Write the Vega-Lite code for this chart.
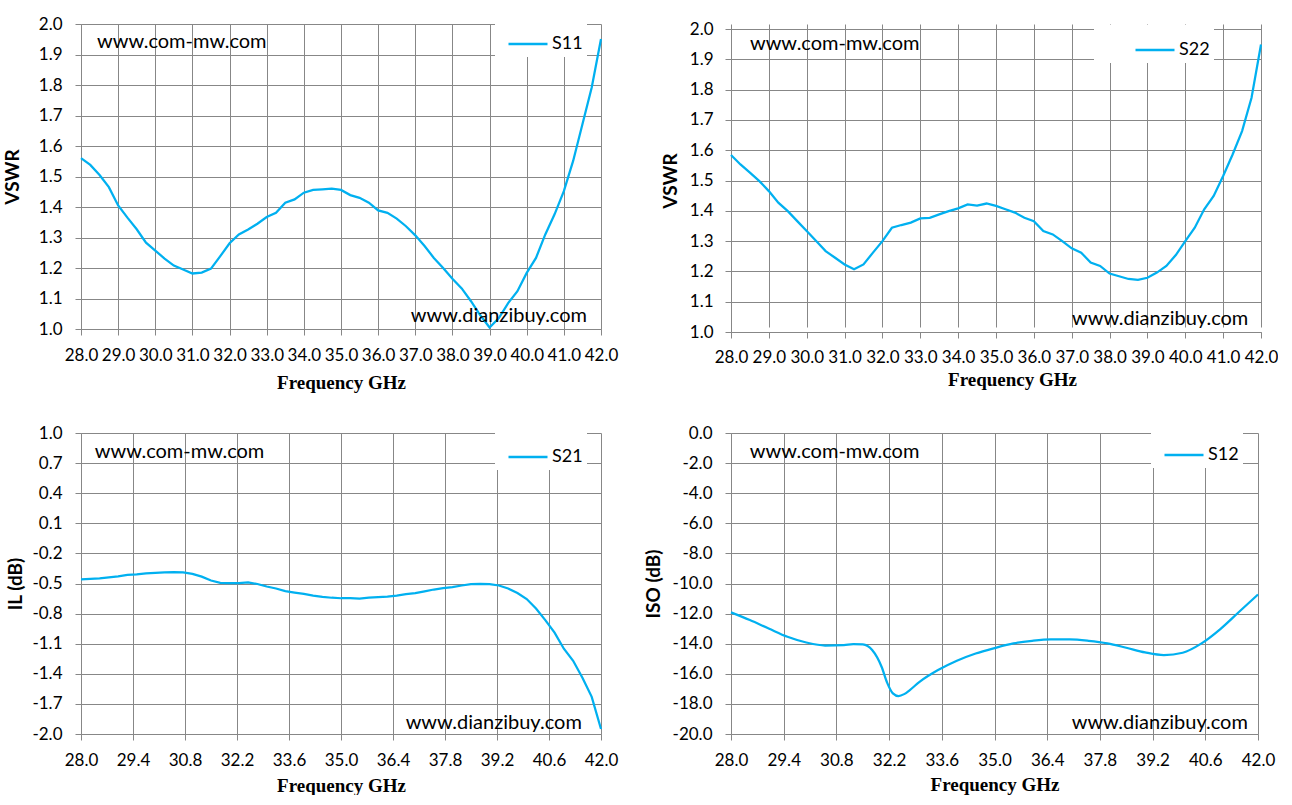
{
  "$schema": "https://vega.github.io/schema/vega-lite/v6.json",
  "background": "white",
  "padding": {"left": 3, "top": 15, "right": 0, "bottom": 0},
  "datasets": {
    "s11": [
      {"f": 28.0, "v": 1.560}, {"f": 28.25, "v": 1.538}, {"f": 28.5, "v": 1.505}, {"f": 28.75, "v": 1.465},
      {"f": 29.0, "v": 1.405}, {"f": 29.25, "v": 1.365}, {"f": 29.5, "v": 1.327}, {"f": 29.75, "v": 1.283},
      {"f": 30.0, "v": 1.257}, {"f": 30.25, "v": 1.231}, {"f": 30.5, "v": 1.208}, {"f": 30.75, "v": 1.195},
      {"f": 31.0, "v": 1.182}, {"f": 31.25, "v": 1.185}, {"f": 31.5, "v": 1.198}, {"f": 31.75, "v": 1.239},
      {"f": 32.0, "v": 1.281}, {"f": 32.25, "v": 1.310}, {"f": 32.5, "v": 1.326}, {"f": 32.75, "v": 1.345},
      {"f": 33.0, "v": 1.367}, {"f": 33.25, "v": 1.381}, {"f": 33.5, "v": 1.414}, {"f": 33.75, "v": 1.425},
      {"f": 34.0, "v": 1.447}, {"f": 34.25, "v": 1.456}, {"f": 34.5, "v": 1.458}, {"f": 34.75, "v": 1.460},
      {"f": 35.0, "v": 1.456}, {"f": 35.25, "v": 1.439}, {"f": 35.5, "v": 1.430}, {"f": 35.75, "v": 1.414},
      {"f": 36.0, "v": 1.389}, {"f": 36.25, "v": 1.381}, {"f": 36.5, "v": 1.362}, {"f": 36.75, "v": 1.337},
      {"f": 37.0, "v": 1.307}, {"f": 37.25, "v": 1.272}, {"f": 37.5, "v": 1.233}, {"f": 37.75, "v": 1.200},
      {"f": 38.0, "v": 1.165}, {"f": 38.25, "v": 1.133}, {"f": 38.5, "v": 1.091}, {"f": 38.75, "v": 1.045},
      {"f": 39.0, "v": 1.005}, {"f": 39.25, "v": 1.036}, {"f": 39.5, "v": 1.085}, {"f": 39.75, "v": 1.124},
      {"f": 40.0, "v": 1.184}, {"f": 40.25, "v": 1.233}, {"f": 40.5, "v": 1.310}, {"f": 40.75, "v": 1.376},
      {"f": 41.0, "v": 1.452}, {"f": 41.25, "v": 1.551}, {"f": 41.5, "v": 1.671}, {"f": 41.75, "v": 1.792},
      {"f": 42.0, "v": 1.951}
    ],
    "s22": [
      {"f": 28.0, "v": 1.584}, {"f": 28.25, "v": 1.553}, {"f": 28.5, "v": 1.526}, {"f": 28.75, "v": 1.498},
      {"f": 29.0, "v": 1.465}, {"f": 29.25, "v": 1.427}, {"f": 29.5, "v": 1.399}, {"f": 29.75, "v": 1.366},
      {"f": 30.0, "v": 1.333}, {"f": 30.25, "v": 1.300}, {"f": 30.5, "v": 1.267}, {"f": 30.75, "v": 1.245},
      {"f": 31.0, "v": 1.223}, {"f": 31.25, "v": 1.207}, {"f": 31.5, "v": 1.223}, {"f": 31.75, "v": 1.262},
      {"f": 32.0, "v": 1.300}, {"f": 32.25, "v": 1.344}, {"f": 32.5, "v": 1.353}, {"f": 32.75, "v": 1.361},
      {"f": 33.0, "v": 1.375}, {"f": 33.25, "v": 1.377}, {"f": 33.5, "v": 1.388}, {"f": 33.75, "v": 1.399},
      {"f": 34.0, "v": 1.408}, {"f": 34.25, "v": 1.421}, {"f": 34.5, "v": 1.417}, {"f": 34.75, "v": 1.424},
      {"f": 35.0, "v": 1.416}, {"f": 35.25, "v": 1.405}, {"f": 35.5, "v": 1.394}, {"f": 35.75, "v": 1.377},
      {"f": 36.0, "v": 1.366}, {"f": 36.25, "v": 1.333}, {"f": 36.5, "v": 1.322}, {"f": 36.75, "v": 1.300},
      {"f": 37.0, "v": 1.276}, {"f": 37.25, "v": 1.262}, {"f": 37.5, "v": 1.229}, {"f": 37.75, "v": 1.218},
      {"f": 38.0, "v": 1.193}, {"f": 38.25, "v": 1.184}, {"f": 38.5, "v": 1.175}, {"f": 38.75, "v": 1.172},
      {"f": 39.0, "v": 1.179}, {"f": 39.25, "v": 1.196}, {"f": 39.5, "v": 1.218}, {"f": 39.75, "v": 1.254},
      {"f": 40.0, "v": 1.300}, {"f": 40.25, "v": 1.344}, {"f": 40.5, "v": 1.405}, {"f": 40.75, "v": 1.449},
      {"f": 41.0, "v": 1.515}, {"f": 41.25, "v": 1.586}, {"f": 41.5, "v": 1.663}, {"f": 41.75, "v": 1.773},
      {"f": 42.0, "v": 1.949}
    ],
    "s21": [
      {"f": 28.0, "v": -0.460}, {"f": 28.25, "v": -0.455}, {"f": 28.5, "v": -0.450}, {"f": 28.75, "v": -0.440},
      {"f": 29.0, "v": -0.430}, {"f": 29.25, "v": -0.415}, {"f": 29.5, "v": -0.410}, {"f": 29.75, "v": -0.400},
      {"f": 30.0, "v": -0.395}, {"f": 30.25, "v": -0.390}, {"f": 30.5, "v": -0.387}, {"f": 30.75, "v": -0.390},
      {"f": 31.0, "v": -0.405}, {"f": 31.25, "v": -0.432}, {"f": 31.5, "v": -0.470}, {"f": 31.75, "v": -0.494},
      {"f": 32.0, "v": -0.497}, {"f": 32.25, "v": -0.496}, {"f": 32.5, "v": -0.490}, {"f": 32.75, "v": -0.505},
      {"f": 33.0, "v": -0.530}, {"f": 33.25, "v": -0.550}, {"f": 33.5, "v": -0.576}, {"f": 33.75, "v": -0.590},
      {"f": 34.0, "v": -0.603}, {"f": 34.25, "v": -0.620}, {"f": 34.5, "v": -0.633}, {"f": 34.75, "v": -0.642},
      {"f": 35.0, "v": -0.647}, {"f": 35.25, "v": -0.645}, {"f": 35.5, "v": -0.650}, {"f": 35.75, "v": -0.640},
      {"f": 36.0, "v": -0.635}, {"f": 36.25, "v": -0.630}, {"f": 36.5, "v": -0.620}, {"f": 36.75, "v": -0.607},
      {"f": 37.0, "v": -0.595}, {"f": 37.25, "v": -0.578}, {"f": 37.5, "v": -0.560}, {"f": 37.75, "v": -0.545},
      {"f": 38.0, "v": -0.535}, {"f": 38.25, "v": -0.520}, {"f": 38.5, "v": -0.507}, {"f": 38.75, "v": -0.503},
      {"f": 39.0, "v": -0.507}, {"f": 39.25, "v": -0.520}, {"f": 39.5, "v": -0.550}, {"f": 39.75, "v": -0.595},
      {"f": 40.0, "v": -0.655}, {"f": 40.25, "v": -0.750}, {"f": 40.5, "v": -0.865}, {"f": 40.75, "v": -0.990},
      {"f": 41.0, "v": -1.150}, {"f": 41.25, "v": -1.270}, {"f": 41.5, "v": -1.440}, {"f": 41.75, "v": -1.630},
      {"f": 42.0, "v": -1.950}
    ],
    "s12": [
      {"f": 28.0, "v": -11.92}, {"f": 28.5, "v": -12.43}, {"f": 29.0, "v": -12.99}, {"f": 29.5, "v": -13.54},
      {"f": 30.0, "v": -13.92}, {"f": 30.5, "v": -14.12}, {"f": 31.0, "v": -14.09}, {"f": 31.25, "v": -14.03},
      {"f": 31.5, "v": -14.05}, {"f": 31.75, "v": -14.42}, {"f": 32.0, "v": -15.53}, {"f": 32.15, "v": -16.6},
      {"f": 32.3, "v": -17.3}, {"f": 32.45, "v": -17.48}, {"f": 32.6, "v": -17.35}, {"f": 32.75, "v": -17.08},
      {"f": 33.0, "v": -16.55}, {"f": 33.5, "v": -15.75}, {"f": 34.0, "v": -15.13}, {"f": 34.5, "v": -14.65},
      {"f": 35.0, "v": -14.29}, {"f": 35.5, "v": -13.98}, {"f": 36.0, "v": -13.81}, {"f": 36.5, "v": -13.72},
      {"f": 37.0, "v": -13.72}, {"f": 37.5, "v": -13.81}, {"f": 38.0, "v": -13.98}, {"f": 38.5, "v": -14.27},
      {"f": 39.0, "v": -14.58}, {"f": 39.5, "v": -14.76}, {"f": 40.0, "v": -14.6}, {"f": 40.5, "v": -13.98},
      {"f": 41.0, "v": -13.03}, {"f": 41.5, "v": -11.88}, {"f": 42.0, "v": -10.73}
    ]
  },
  "bounds": "flush",
  "columns": 2,
  "spacing": {"row": 101, "column": 130},
  "resolve": {"scale": {"color": "independent"}, "legend": {"color": "independent"}},
  "concat": [
    {
      "width": 520,
      "height": 305,
      "layer": [
        {
          "data": {"name": "s11"},
          "mark": {"type": "line", "strokeWidth": 2.25},
          "encoding": {
            "x": {"field": "f", "type": "quantitative", "scale": {"domain": [28, 42], "nice": false, "zero": false},
              "axis": {"title": "Frequency GHz", "values": [28, 29, 30, 31, 32, 33, 34, 35, 36, 37, 38, 39, 40, 41, 42], "format": ".1f", "titlePadding": 10}},
            "y": {"field": "v", "type": "quantitative", "scale": {"domain": [1, 2], "nice": false, "zero": false},
              "axis": {"title": "VSWR", "values": [1, 1.1, 1.2, 1.3, 1.4, 1.5, 1.6, 1.7, 1.8, 1.9, 2], "format": ".1f", "titlePadding": 16}},
            "color": {"datum": "S11", "type": "nominal", "scale": {"range": ["#00B0F0"]},
              "legend": {"orient": "none", "legendX": 414, "legendY": -5, "title": null}}
          }
        },
        {
          "data": {"values": [{"f": 28.43, "v": 1.941, "label": "www.com-mw.com"}, {"f": 36.88, "v": 1.043, "label": "www.dianzibuy.com"}]},
          "mark": {"type": "text", "align": "left", "baseline": "middle", "font": "Lato", "fontSize": 20, "color": "#000"},
          "encoding": {"x": {"field": "f", "type": "quantitative"}, "y": {"field": "v", "type": "quantitative"}, "text": {"field": "label"}}
        }
      ]
    },
    {
      "width": 530,
      "height": 308,
      "layer": [
        {
          "data": {"name": "s22"},
          "mark": {"type": "line", "strokeWidth": 2.25},
          "encoding": {
            "x": {"field": "f", "type": "quantitative", "scale": {"domain": [28, 42], "nice": false, "zero": false},
              "axis": {"title": "Frequency GHz", "values": [28, 29, 30, 31, 32, 33, 34, 35, 36, 37, 38, 39, 40, 41, 42], "format": ".1f", "labelPadding": 11, "titlePadding": 5, "titleX": 281}},
            "y": {"field": "v", "type": "quantitative", "scale": {"domain": [1, 2], "nice": false, "zero": false, "range": [308, 5]},
              "axis": {"title": "VSWR", "values": [1, 1.1, 1.2, 1.3, 1.4, 1.5, 1.6, 1.7, 1.8, 1.9, 2], "format": ".1f", "labelPadding": 12, "titlePadding": 9}},
            "color": {"datum": "S22", "type": "nominal", "scale": {"range": ["#00B0F0"]},
              "legend": {"orient": "none", "legendX": 363, "legendY": 1, "title": null, "symbolOffset": 36}}
          }
        },
        {
          "data": {"values": [{"f": 28.5, "v": 1.95, "label": "www.com-mw.com"}, {"f": 37.01, "v": 1.042, "label": "www.dianzibuy.com"}]},
          "mark": {"type": "text", "align": "left", "baseline": "middle", "font": "Lato", "fontSize": 20, "color": "#000"},
          "encoding": {"x": {"field": "f", "type": "quantitative"}, "y": {"field": "v", "type": "quantitative"}, "text": {"field": "label"}}
        }
      ]
    },
    {
      "width": 520,
      "height": 301,
      "layer": [
        {
          "data": {"name": "s21"},
          "mark": {"type": "line", "strokeWidth": 2.25},
          "encoding": {
            "x": {"field": "f", "type": "quantitative", "scale": {"domain": [28, 42], "nice": false, "zero": false},
              "axis": {"title": "Frequency GHz", "values": [28, 29.4, 30.8, 32.2, 33.6, 35, 36.4, 37.8, 39.2, 40.6, 42], "format": ".1f", "titlePadding": 8}},
            "y": {"field": "v", "type": "quantitative", "scale": {"domain": [-2, 1], "nice": false, "zero": false},
              "axis": {"title": "IL (dB)", "values": [1, 0.7, 0.4, 0.1, -0.2, -0.5, -0.8, -1.1, -1.4, -1.7, -2],
                "labelExpr": "replace(format(datum.value, '.1f'), '\u2212', '-')", "titlePadding": 6}},
            "color": {"datum": "S21", "type": "nominal", "scale": {"range": ["#00B0F0"]},
              "legend": {"orient": "none", "legendX": 414, "legendY": -1, "title": null}}
          }
        },
        {
          "data": {"values": [{"f": 28.37, "v": 0.814, "label": "www.com-mw.com"}, {"f": 36.74, "v": -1.893, "label": "www.dianzibuy.com"}]},
          "mark": {"type": "text", "align": "left", "baseline": "middle", "font": "Lato", "fontSize": 20, "color": "#000"},
          "encoding": {"x": {"field": "f", "type": "quantitative"}, "y": {"field": "v", "type": "quantitative"}, "text": {"field": "label"}}
        }
      ]
    },
    {
      "width": 527,
      "height": 301,
      "layer": [
        {
          "data": {"name": "s12"},
          "mark": {"type": "line", "strokeWidth": 2.25, "interpolate": "monotone"},
          "encoding": {
            "x": {"field": "f", "type": "quantitative", "scale": {"domain": [28, 42], "nice": false, "zero": false},
              "axis": {"title": "Frequency GHz", "values": [28, 29.4, 30.8, 32.2, 33.6, 35, 36.4, 37.8, 39.2, 40.6, 42], "format": ".1f", "titlePadding": 7}},
            "y": {"field": "v", "type": "quantitative", "scale": {"domain": [-20, 0], "nice": false, "zero": false},
              "axis": {"title": "ISO (dB)", "values": [0, -2, -4, -6, -8, -10, -12, -14, -16, -18, -20],
                "labelExpr": "replace(format(datum.value, '.1f'), '\u2212', '-')", "titlePadding": 9}},
            "color": {"datum": "S12", "type": "nominal", "scale": {"range": ["#00B0F0"]},
              "legend": {"orient": "none", "legendX": 420, "legendY": -3, "title": null}}
          }
        },
        {
          "data": {"values": [{"f": 28.5, "v": -1.28, "label": "www.com-mw.com"}, {"f": 37.05, "v": -19.29, "label": "www.dianzibuy.com"}]},
          "mark": {"type": "text", "align": "left", "baseline": "middle", "font": "Lato", "fontSize": 20, "color": "#000"},
          "encoding": {"x": {"field": "f", "type": "quantitative"}, "y": {"field": "v", "type": "quantitative"}, "text": {"field": "label"}}
        }
      ]
    }
  ],
  "config": {
    "view": {"stroke": null},
    "axis": {
      "grid": true, "gridColor": "#878787", "gridWidth": 1, "gridOpacity": 1,
      "domainColor": "#878787", "domainWidth": 1, "tickColor": "#878787", "tickSize": 6, "tickWidth": 1,
      "tickCount": 100,
      "labelFont": "Lato", "labelFontSize": 17, "labelColor": "#000", "labelFlush": false, "labelOverlap": false, "labelBound": false,
      "titleColor": "#000"
    },
    "axisX": {"titleFont": "Liberation Serif", "titleFontSize": 19, "titleFontWeight": "bold", "labelPadding": 12},
    "axisY": {"titleFont": "Lato", "titleFontSize": 19, "titleFontWeight": "bold", "labelPadding": 13},
    "legend": {
      "symbolType": "stroke", "symbolSize": 1521, "symbolStrokeWidth": 2.5,
      "labelFont": "Lato", "labelFontSize": 18, "labelColor": "#000", "labelOffset": 3,
      "fillColor": "white", "padding": 4, "symbolOffset": 8
    }
  }
}
